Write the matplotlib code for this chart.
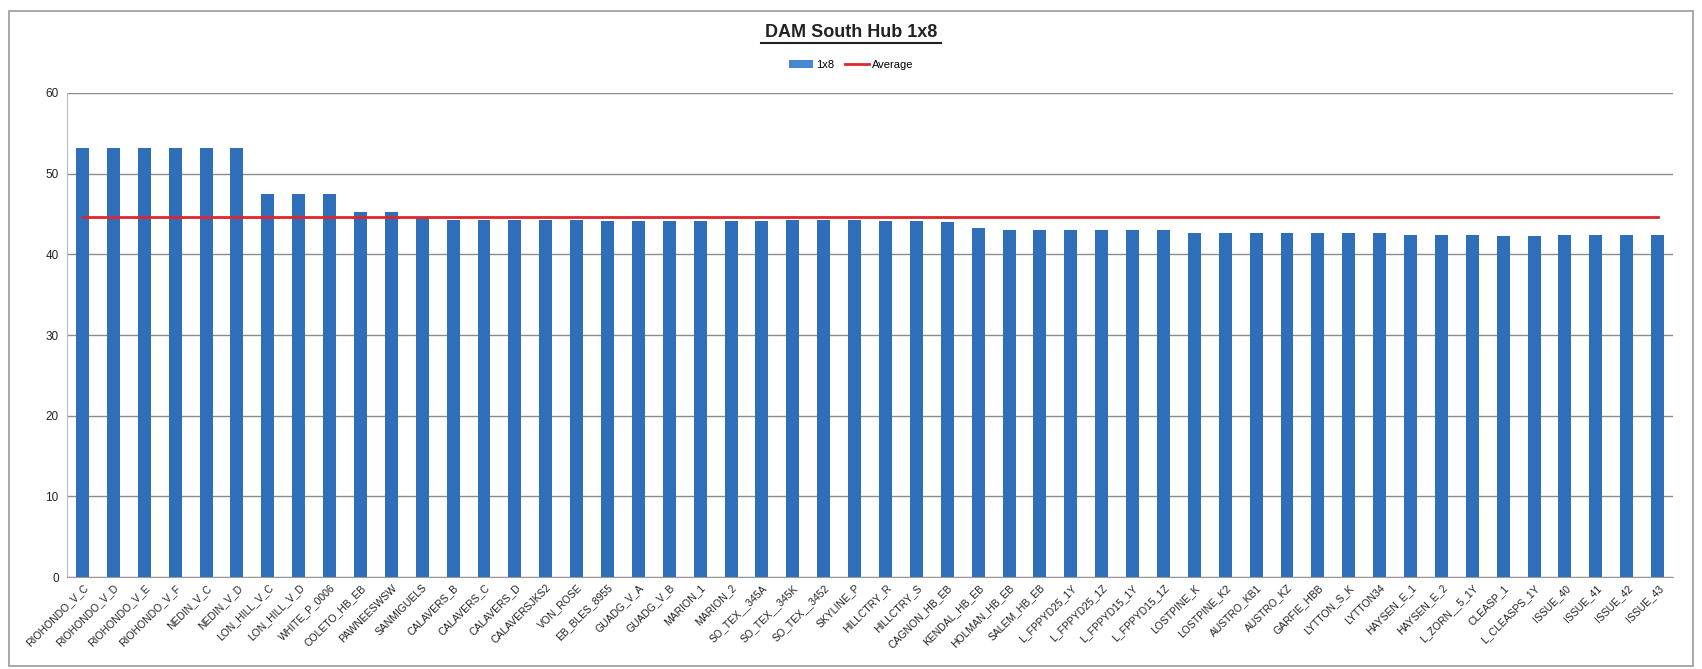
import numpy as np
import matplotlib
matplotlib.use("Agg")
import matplotlib.pyplot as plt
from matplotlib.lines import Line2D
from matplotlib.patches import Patch, Rectangle

categories = [
    "RIOHONDO_V_C", "RIOHONDO_V_D", "RIOHONDO_V_E", "RIOHONDO_V_F", "NEDIN_V_C", "NEDIN_V_D",
    "LON_HILL_V_C", "LON_HILL_V_D", "WHITE_P_0006", "COLETO_HB_EB", "PAWNEESWSW", "SANMIGUELS",
    "CALAVERS_B", "CALAVERS_C", "CALAVERS_D", "CALAVERSJKS2", "VON_ROSE", "EB_BLES_8955",
    "GUADG_V_A", "GUADG_V_B", "MARION_1", "MARION_2", "SO_TEX__345A", "SO_TEX__345K",
    "SO_TEX__3452", "SKYLINE_P", "HILLCTRY_R", "HILLCTRY_S", "CAGNON_HB_EB", "KENDAL_HB_EB",
    "HOLMAN_HB_EB", "SALEM_HB_EB", "L_FPPYD25_1Y", "L_FPPYD25_1Z", "L_FPPYD15_1Y", "L_FPPYD15_1Z",
    "LOSTPINE_K", "LOSTPINE_K2", "AUSTRO_KB1", "AUSTRO_KZ", "GARFIE_HBB", "LYTTON_S_K",
    "LYTTON34", "HAYSEN_E_1", "HAYSEN_E_2", "L_ZORN__5_1Y", "CLEASP_1", "L_CLEASPS_1Y",
    "ISSUE_40", "ISSUE_41", "ISSUE_42", "ISSUE_43",
]
values_1x8 = [
    53.2, 53.2, 53.2, 53.2, 53.2, 53.2,
    47.5, 47.5, 47.5, 45.2, 45.2, 44.6,
    44.2, 44.2, 44.2, 44.2, 44.2, 44.1,
    44.1, 44.1, 44.1, 44.1, 44.1, 44.2,
    44.2, 44.2, 44.1, 44.1, 44.0, 43.3,
    43.0, 43.0, 43.0, 43.0, 43.0, 43.0,
    42.7, 42.7, 42.7, 42.7, 42.6, 42.6,
    42.6, 42.4, 42.4, 42.4, 42.3, 42.3,
    42.4, 42.4, 42.4, 42.4,
]
average_value = 44.6
y_ticks = [0, 10, 20, 30, 40, 50, 60]

bar_color = "#2F6EB8"
line_color = "#E0262B"

fig = plt.figure(figsize=(17.02, 6.69), dpi=100)
ax = fig.add_axes([0.0394, 0.1375, 0.9436, 0.7235])

x = np.arange(len(categories))
ax.bar(x, values_1x8, width=0.42, color=bar_color, zorder=3, label="1x8")
ax.plot([-0.5 + 0.5, len(categories) - 1], [average_value, average_value],
        color=line_color, linewidth=2.0, zorder=4, label="Average")

ax.set_xlim(-0.5, len(categories) - 0.5)
ax.set_ylim(0, 60)
ax.set_yticks(y_ticks)
ax.set_yticklabels([str(t) for t in y_ticks], fontsize=8.5, color="#222222",
                   family="Liberation Sans")
ax.yaxis.grid(True, color="#8a8a8a", linewidth=1.0, zorder=0)
ax.set_axisbelow(True)
ax.set_xticks(x)
ax.set_xticklabels(categories, rotation=45, ha="right", rotation_mode="anchor",
                   fontsize=7.5, color="#222222", family="Liberation Sans")
ax.tick_params(axis="both", length=0, pad=6)
ax.tick_params(axis="x", pad=4)
for s in ["top", "right"]:
    ax.spines[s].set_visible(False)
ax.spines["left"].set_color("#bbbbbb")
ax.spines["bottom"].set_color("#9a9a9a")

fig.text(0.5, 0.952, "DAM South Hub 1x8", ha="center", va="center",
         fontsize=13, fontweight="bold", color="#222222", family="Liberation Sans")
# underline
fig.add_artist(Line2D([0.447, 0.553], [0.935, 0.935], color="#222222", linewidth=1.5,
                      transform=fig.transFigure))

handles = [Patch(facecolor="#4A86D0", edgecolor="none"),
           Line2D([0], [0], color=line_color, linewidth=2)]
fig.legend(handles, ["1x8", "Average"], loc="center", bbox_to_anchor=(0.5, 0.903),
           ncol=2, frameon=False, fontsize=8, handlelength=2.2, handleheight=0.6,
           columnspacing=1.0, handletextpad=0.2, prop={"family": "Liberation Sans", "size": 8})

fig.add_artist(Rectangle((0.005, 0.005), 0.99, 0.978, transform=fig.transFigure,
                         fill=False, edgecolor="#9a9a9a", linewidth=1.2))

fig.savefig("out.png", dpi=100)
